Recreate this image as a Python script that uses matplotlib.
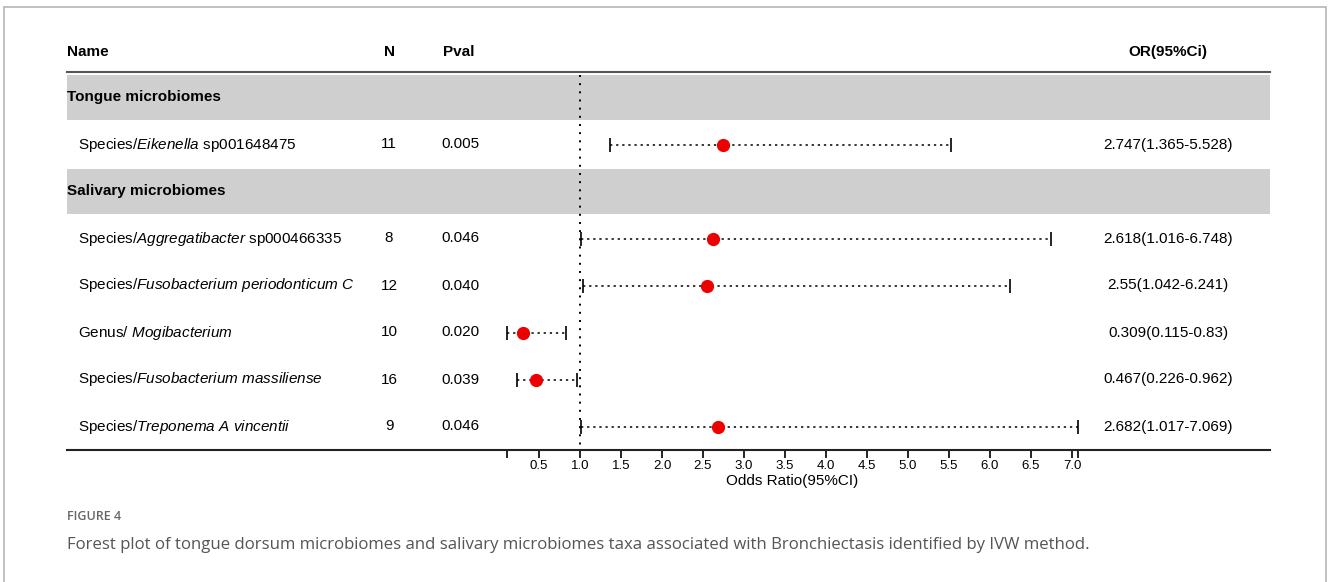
import numpy as np
import matplotlib.pyplot as plt
import matplotlib.transforms as mtransforms
from matplotlib.patches import Rectangle

plt.rcParams['font.family'] = ['Liberation Sans', 'DejaVu Sans']
plt.rcParams['mathtext.fontset'] = 'custom'
plt.rcParams['mathtext.rm'] = 'Liberation Sans'
plt.rcParams['mathtext.it'] = 'Liberation Sans:italic'

# data
groups = ["Tongue microbiomes", "Salivary microbiomes"]
group_sizes = [1, 5]
names = [r"Species/$\mathit{Eikenella}$ sp001648475",
         r"Species/$\mathit{Aggregatibacter}$ sp000466335",
         r"Species/$\mathit{Fusobacterium\ periodonticum\ C}$",
         r"Genus/ $\mathit{Mogibacterium}$",
         r"Species/$\mathit{Fusobacterium\ massiliense}$",
         r"Species/$\mathit{Treponema\ A\ vincentii}$"]
n_snps = [11, 8, 12, 10, 16, 9]
pvals = ["0.005", "0.046", "0.040", "0.020", "0.039", "0.046"]
or_vals = [2.747, 2.618, 2.55, 0.309, 0.467, 2.682]
ci_low = [1.365, 1.016, 1.042, 0.115, 0.226, 1.017]
ci_high = [5.528, 6.748, 6.241, 0.83, 0.962, 7.069]
or_text = ["2.747(1.365-5.528)", "2.618(1.016-6.748)", "2.55(1.042-6.241)",
           "0.309(0.115-0.83)", "0.467(0.226-0.962)", "2.682(1.017-7.069)"]

# row positions: each group header then its items
group_rows = []
item_rows = []
r = 0
for size in group_sizes:
    group_rows.append(r)
    r += 1
    for k in range(size):
        item_rows.append(r)
        r += 1

fig = plt.figure(figsize=(13.28, 5.82), dpi=100)
W, H = 1328, 582
ax = fig.add_axes([67 / W, 1 - 450 / H, (1270 - 67) / W, (450 - 72) / H])

px_unit = 82.0
x_left = 1 - (580 - 67) / px_unit
x_right = 7 + (1270 - 1072) / px_unit
ax.set_xlim(x_left, x_right)
row_h = 47.0
ax.set_ylim((450 - 97.5) / row_h, (72 - 97.5) / row_h)

for g in group_rows:
    ax.axhspan(g - 0.48, g + 0.48, color='#cfcfcf', lw=0, zorder=0)

ax.vlines(1.0, -0.48, (450 - 97.5) / row_h, colors='black', linestyles=(0, (1, 3.2)), lw=1.4, zorder=1)

ax.hlines(item_rows, ci_low, ci_high, colors='black', linestyles=(0, (1.5, 2.5)), lw=1.1, zorder=2)
ax.plot(ci_low, item_rows, ls='none', marker='|', ms=10.5, mew=1.2, color='black', zorder=2)
ax.plot(ci_high, item_rows, ls='none', marker='|', ms=10.5, mew=1.2, color='black', zorder=2)
ax.plot(or_vals, item_rows, ls='none', marker='o', ms=8.5, color='#ee0000', zorder=3)

ticks = [min(ci_low)] + list(np.arange(0.5, 7.01, 0.5)) + [max(ci_high)]
labels = [""] + ["%.1f" % t for t in np.arange(0.5, 7.01, 0.5)] + [""]
ax.set_xticks(ticks)
ax.set_xticklabels(labels)
ax.tick_params(axis='x', direction='out', length=6, width=1.2, pad=1.5, labelsize=9.5)
ax.set_yticks([])
for s in ['left', 'right']:
    ax.spines[s].set_visible(False)
ax.spines['top'].set_color('#555555')
ax.spines['top'].set_linewidth(1.5)
ax.spines['bottom'].set_color('#222222')
ax.spines['bottom'].set_linewidth(1.5)

mid = (min(ci_low) + max(ci_high)) / 2
ax.text(mid, (481 - 97.5) / row_h, "Odds Ratio(95%CI)", ha='center', va='center', fontsize=11, clip_on=False)

tr = mtransforms.blended_transform_factory(ax.transAxes, ax.transData)
hy = (52 - 97.5) / row_h
ax.text(0, hy, "Name", transform=tr, ha='left', va='center', fontsize=11, fontweight='bold')
ax.text(0.2677, hy, "N", transform=tr, ha='center', va='center', fontsize=11, fontweight='bold')
ax.text(0.3125, hy, "Pval", transform=tr, ha='left', va='center', fontsize=11, fontweight='bold')
ax.text(0.9152, hy, "OR(95%Ci)", transform=tr, ha='center', va='center', fontsize=11, fontweight='bold')

for g, name in zip(group_rows, groups):
    ax.text(0, g, name, transform=tr, ha='left', va='center', fontsize=11, fontweight='bold')

for i, row in enumerate(item_rows):
    ax.text(0.009, row, names[i], transform=tr, ha='left', va='center', fontsize=11)
    ax.text(0.2677, row, str(n_snps[i]), transform=tr, ha='center', va='center', fontsize=11)
    ax.text(0.311, row, pvals[i], transform=tr, ha='left', va='center', fontsize=11)
    ax.text(0.9152, row, or_text[i], transform=tr, ha='center', va='center', fontsize=11)

fig.text(67 / W, 1 - 517 / H, "FIGURE 4", family=['Open Sans', 'DejaVu Sans'],
         fontsize=9, fontweight='semibold', color='#666666', ha='left', va='center')
fig.text(67 / W, 1 - 545 / H,
         "Forest plot of tongue dorsum microbiomes and salivary microbiomes taxa associated with Bronchiectasis identified by IVW method.",
         family=['Open Sans', 'DejaVu Sans'], fontsize=12.05, color='#555555', ha='left', va='center')

fig.patches.append(Rectangle((4 / W, -0.01), (1326 - 4) / W, (582 - 7) / H + 0.01,
                             transform=fig.transFigure, fill=False, edgecolor='#b5b5b5', lw=1.2))

fig.savefig("out.png", dpi=100)
